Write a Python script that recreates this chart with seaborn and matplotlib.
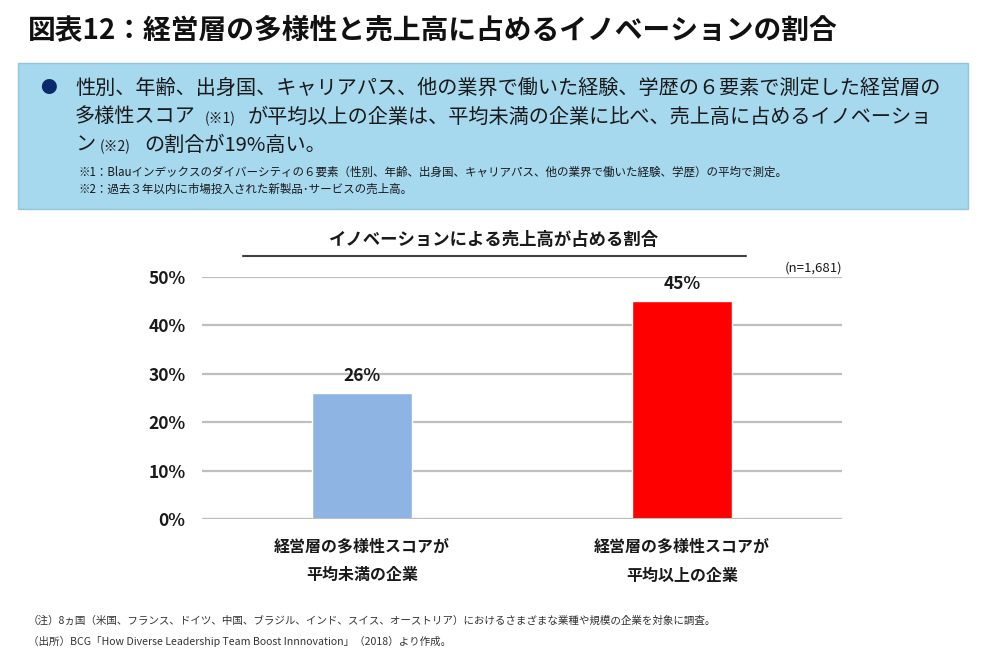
import matplotlib
matplotlib.use("Agg")
import matplotlib.pyplot as plt
import matplotlib.patches as patches
import seaborn as sns

# データ
categories = ["経営層の多様性スコアが\n平均未満の企業", "経営層の多様性スコアが\n平均以上の企業"]
values = [26, 45]
bar_colors = ["#8EB4E3", "#FF0000"]
yticks = [0, 10, 20, 30, 40, 50]
ytick_labels = ["0%", "10%", "20%", "30%", "40%", "50%"]

title = "図表12：経営層の多様性と売上高に占めるイノベーションの割合"
chart_title = "イノベーションによる売上高が占める割合"
n_label = "(n=1,681)"
note1 = "（注）8ヵ国（米国、フランス、ドイツ、中国、ブラジル、インド、スイス、オーストリア）におけるさまざまな業種や規模の企業を対象に調査。"
note2 = "（出所）BCG「How Diverse Leadership Team Boost Innnovation」（2018）より作成。"

sns.set_theme(style="white")
plt.rcParams['font.family'] = ['Noto Sans CJK JP', 'DejaVu Sans']

W, H = 982, 651
fig = plt.figure(figsize=(W / 100, H / 100), dpi=100)

def fx(x):
    return x / W

def fy(y):
    return 1 - y / H

# タイトル
fig.text(fx(28), fy(30), title, fontsize=20, fontweight='bold', color='#111111', va='center', ha='left')

# 青いボックス
box = patches.Rectangle((fx(18), fy(209)), fx(968) - fx(18), fy(63) - fy(209),
                        transform=fig.transFigure, facecolor='#A6D8EE', edgecolor='#90C6DE', lw=1)
fig.patches.append(box)

fig.text(fx(48), fy(88), "●", fontsize=12, color='#0B2A6B', va='center', ha='center')
big = 14.5
small = 10
tc = '#1a1a1a'
fig.text(fx(75), fy(88), "性別、年齢、出身国、キャリアパス、他の業界で働いた経験、学歴の６要素で測定した経営層の",
         fontsize=big, color=tc, va='center')
fig.text(fx(75), fy(117), "多様性スコア", fontsize=big, color=tc, va='center')
fig.text(fx(205), fy(119), "(※1)", fontsize=small, color=tc, va='center')
fig.text(fx(248), fy(117), "が平均以上の企業は、平均未満の企業に比べ、売上高に占めるイノベーショ",
         fontsize=big, color=tc, va='center')
fig.text(fx(75), fy(145), "ン", fontsize=big, color=tc, va='center')
fig.text(fx(100), fy(147), "(※2)", fontsize=small, color=tc, va='center')
fig.text(fx(144), fy(145), "の割合が19%高い。", fontsize=big, color=tc, va='center')
fig.text(fx(78), fy(172), "※1：Blauインデックスのダイバーシティの６要素（性別、年齢、出身国、キャリアパス、他の業界で働いた経験、学歴）の平均で測定。",
         fontsize=8.3, color=tc, va='center')
fig.text(fx(78), fy(189), "※2：過去３年以内に市場投入された新製品･サービスの売上高。",
         fontsize=8.3, color=tc, va='center')

# グラフ
ax = fig.add_axes([fx(202), fy(519), fx(842) - fx(202), fy(277) - fy(519)])
sns.barplot(x=categories, y=values, hue=categories, palette=bar_colors, legend=False,
            width=0.31, saturation=1, ax=ax)
ax.set_xlim(-0.5, 1.5)
ax.set_ylim(0, 50)
ax.set_yticks(yticks)
ax.set_yticklabels(ytick_labels)
ax.yaxis.grid(True, color='#BFBFBF', lw=1.6)
ax.axhline(0, color='#BFBFBF', lw=2.2, zorder=3)
ax.set_axisbelow(True)
for s in ax.spines.values():
    s.set_visible(False)
ax.tick_params(axis='y', length=0, pad=12, labelsize=12.5, labelcolor='#1a1a1a')
ax.tick_params(axis='x', length=0, pad=14, labelsize=11.5, labelcolor='#1a1a1a')
for lbl in ax.get_yticklabels():
    lbl.set_fontweight('bold')
for lbl in ax.get_xticklabels():
    lbl.set_fontweight('bold')
    lbl.set_linespacing(2.0)
ax.set_xlabel("")
ax.set_ylabel("")
for cont in ax.containers:
    ax.bar_label(cont, fmt='%d%%', padding=6, fontsize=12.5, color='#1a1a1a', fontweight='semibold')

# グラフタイトルと下線
fig.text(fx(494), fy(240), chart_title, fontsize=12.5, fontweight='bold', color='#1a1a1a', ha='center', va='center')
fig.add_artist(plt.Line2D([fx(243), fx(746)], [fy(256), fy(256)], color='#404040', lw=1.5))
fig.text(fx(842), fy(268), n_label, fontsize=9.5, color='#1a1a1a', ha='right', va='center')

# 注記
fig.text(fx(28), fy(621), note1, fontsize=7.6, color='#333333', va='center')
fig.text(fx(28), fy(641), note2, fontsize=7.6, color='#333333', va='center')

fig.savefig("out.png", dpi=100, facecolor='white')
